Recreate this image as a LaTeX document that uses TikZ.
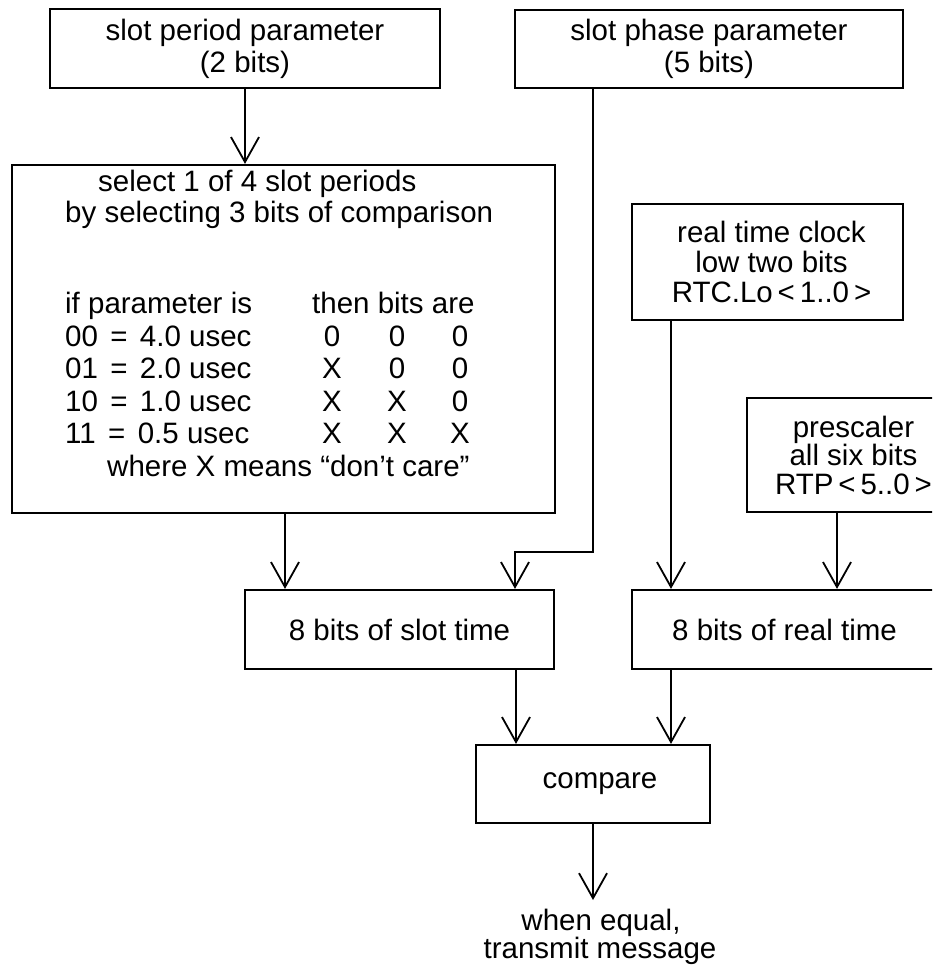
\documentclass[tikz,border=0pt]{standalone}
\usepackage{fontspec}
\setmainfont{Liberation Sans}
\usetikzlibrary{arrows.meta}
\newcommand{\eqsp}{\hspace{0.42em}=\hspace{0.42em}}
\tikzset{
  every node/.style={font=\fontsize{29.5}{32}\selectfont, inner sep=0pt},
  box/.style={draw, line width=2.2pt, rectangle, align=center},
  arr/.style={line width=1.8pt, -{Straight Barb[length=25pt,width=28pt,line width=1.8pt]}},
  conn/.style={line width=1.8pt},
  txt/.style={anchor=base west},
  bit/.style={anchor=base}
}
\begin{document}
\begin{tikzpicture}[x=1pt,y=-1pt]
\useasboundingbox (0,0) rectangle (932,972);
\clip (0,0) rectangle (932,972);
% boxes
\node[box, minimum width=390pt, minimum height=79pt] (box1) at (245,48.5) {slot period parameter\\(2 bits)};
\node[box, minimum width=388pt, minimum height=78pt] (box2) at (709,49) {slot phase parameter\\(5 bits)};
\node[box, minimum width=543pt, minimum height=348pt] (big) at (283.5,339) {};
\node[box, minimum width=271pt, minimum height=116pt, font=\fontsize{29.5}{30}\selectfont] (rtc) at (767.5,262) {\hspace{8pt}real time clock\\\hspace{8pt}low two bits\\\hspace{8pt}RTC.Lo\,<\,1..0\,>};
\node[box, minimum width=213pt, minimum height=114pt, font=\fontsize{29.5}{28.5}\selectfont] (pre) at (853.5,455) {prescaler\\all six bits\\RTP\,<\,5..0\,>};
\node[box, minimum width=309pt, minimum height=79pt] (slot) at (399.5,629.5) {8 bits of slot time};
\node[box, minimum width=305pt, minimum height=79pt] (real) at (784.5,629.5) {8 bits of real time};
\node[box, minimum width=234pt, minimum height=78pt] (cmp) at (593,784) {\hspace{14pt}compare};
% text inside big box
\node[txt] (t1) at (98,191) {select 1 of 4 slot periods};
\node[txt] (t2) at (65,222) {by selecting 3 bits of comparison};
\node[txt] (t3) at (65,313) {if parameter is};
\node[txt] (t4) at (312,313) {then bits are};
\node[txt] (r1) at (65,346) {00\eqsp 4.0 usec};
\node[txt] (r2) at (65,378) {01\eqsp 2.0 usec};
\node[txt] (r3) at (65,411) {10\eqsp 1.0 usec};
\node[txt] (r4) at (65,443) {11\eqsp 0.5 usec};
\node[bit] (b11) at (332,346) {0};
\node[bit] (b12) at (397,346) {0};
\node[bit] (b13) at (460,346) {0};
\node[bit] (b21) at (332,378) {X};
\node[bit] (b22) at (397,378) {0};
\node[bit] (b23) at (460,378) {0};
\node[bit] (b31) at (332,411) {X};
\node[bit] (b32) at (397,411) {X};
\node[bit] (b33) at (460,411) {0};
\node[bit] (b41) at (332,443) {X};
\node[bit] (b42) at (397,443) {X};
\node[bit] (b43) at (460,443) {X};
\node[txt] (t5) at (107,476) {where X means “don’t care”};
% output text
\node[bit] (o1) at (601,930) {when equal,};
\node[bit] (o2) at (600,958) {transmit message};
% helper coordinates
\coordinate (xa) at (285,0);
\coordinate (xb) at (671,0);
\coordinate (xc) at (837,0);
\coordinate (xd) at (516,0);
\coordinate (p1) at (593,552);
\coordinate (p2) at (515,552);
\coordinate (out) at (593,900);
% connectors
\draw[arr] (box1.south) -- (box1.south |- big.north);
\draw[arr] (p1 |- box2.south) -- (p1) -- (p2) -- (p2 |- slot.north);
\draw[arr] (xa |- big.south) -- (xa |- slot.north);
\draw[arr] (xb |- rtc.south) -- (xb |- real.north);
\draw[arr] (xc |- pre.south) -- (xc |- real.north);
\draw[arr] (xd |- slot.south) -- (xd |- cmp.north);
\draw[arr] (xb |- real.south) -- (xb |- cmp.north);
\draw[arr] (cmp.south) -- (out);
\end{tikzpicture}
\end{document}
